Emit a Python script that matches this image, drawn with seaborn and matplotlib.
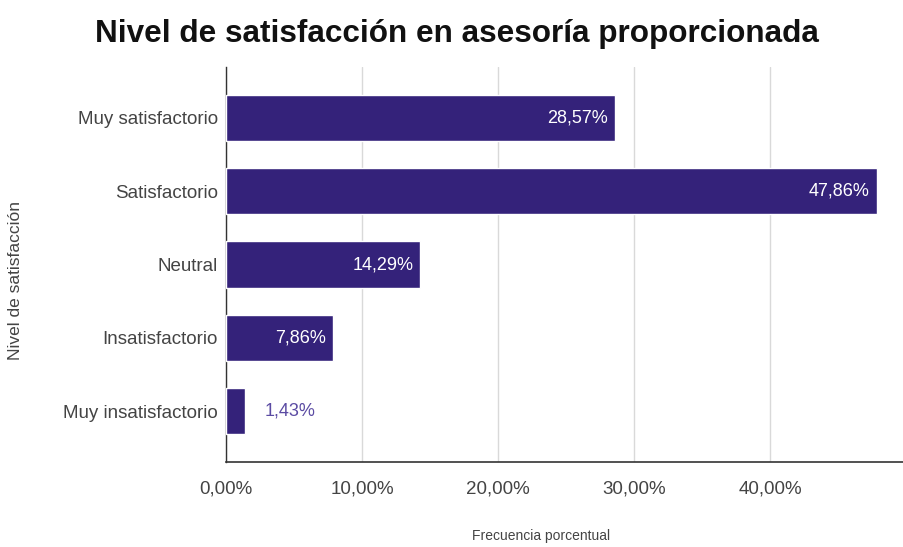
import matplotlib
matplotlib.use("Agg")
import matplotlib.pyplot as plt
import seaborn as sns
import pandas as pd
from matplotlib.ticker import FuncFormatter

categorias = ["Muy satisfactorio", "Satisfactorio", "Neutral", "Insatisfactorio", "Muy insatisfactorio"]
porcentajes = [28.57, 47.86, 14.29, 7.86, 1.43]
ticks_x = [0, 10, 20, 30, 40]

df = pd.DataFrame({"nivel": categorias, "pct": porcentajes})

sns.set_theme(style="white")
plt.rcParams["font.family"] = ["Liberation Sans", "DejaVu Sans"]

color_barra = "#34227a"

fig = plt.figure(figsize=(9.04, 5.47), dpi=100)
ax = fig.add_axes([0.25, 0.1554, 0.75, 0.7221])

sns.barplot(data=df, x="pct", y="nivel", color=color_barra, saturation=1,
            width=0.63, ax=ax, zorder=3)

ax.set_xlim(0, 49.85)
ax.set_ylim(4.69, -0.69)
ax.set_xticks(ticks_x)
ax.xaxis.set_major_formatter(FuncFormatter(lambda v, p: f"{v:.2f}%".replace(".", ",")))
ax.grid(axis="x", color="#d9d9d9", linewidth=1, zorder=0)
ax.grid(axis="y", visible=False)

for s in ["top", "right"]:
    ax.spines[s].set_visible(False)
ax.spines["left"].set_color("#333333")
ax.spines["bottom"].set_color("#333333")
ax.spines["left"].set_linewidth(1)
ax.spines["bottom"].set_linewidth(1.2)

ax.tick_params(axis="x", direction="inout", length=8, width=1.2, color="#333333",
               labelsize=13.5, labelcolor="#444444", pad=9)
ax.tick_params(axis="y", length=0, labelsize=13.5, labelcolor="#444444", pad=6)

for i, v in enumerate(porcentajes):
    texto = f"{v:.2f}%".replace(".", ",")
    if v > 5:
        ax.annotate(texto, xy=(v, i), xytext=(-5, 0), textcoords="offset points",
                    ha="right", va="center", color="white", fontsize=13, zorder=4)
    else:
        ax.annotate(texto, xy=(v, i), xytext=(14, 0), textcoords="offset points",
                    ha="left", va="center", color="#5b4ba3", fontsize=13, zorder=4)

ax.set_ylabel("Nivel de satisfacción", fontsize=12.5, color="#444444")
ax.yaxis.set_label_coords(-0.3, 0.46)
ax.set_xlabel("Frecuencia porcentual", fontsize=10, color="#444444")
ax.xaxis.set_label_coords(0.465, -0.17)

fig.suptitle("Nivel de satisfacción en asesoría proporcionada", x=0.505, y=0.938,
             fontsize=22.7, fontweight="bold", color="#111111", va="center")

fig.savefig("out.png", dpi=100)
